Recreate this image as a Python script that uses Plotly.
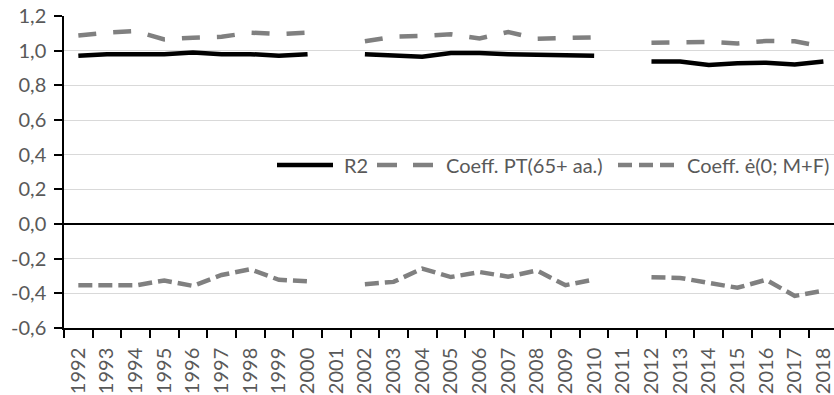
import plotly.graph_objects as go

years = [str(y) for y in range(1992, 2019)]

r2 = [0.97, 0.98, 0.98, 0.98, 0.99, 0.98, 0.98, 0.97, 0.98, None,
      0.98, 0.975, 0.965, 0.987, 0.987, 0.98, 0.977, 0.97, 0.97, None,
      0.938, 0.937, 0.917, 0.927, 0.93, 0.92, 0.938]
coeff_pt = [1.087, 1.104, 1.113, 1.065, 1.075, 1.08, 1.104, 1.096, 1.104, None,
            1.054, 1.081, 1.085, 1.094, 1.071, 1.108, 1.069, 1.075, 1.077, None,
            1.046, 1.048, 1.05, 1.042, 1.056, 1.054, 1.023]
coeff_e0 = [-0.354, -0.354, -0.354, -0.326, -0.357, -0.294, -0.261, -0.322, -0.331, None,
            -0.347, -0.334, -0.257, -0.306, -0.277, -0.304, -0.268, -0.353, -0.32, None,
            -0.307, -0.311, -0.34, -0.368, -0.322, -0.415, -0.385]

names = ["R2", "Coeff. PT(65+ aa.)", "Coeff. ė(0; M+F)"]
y_tickvals = [-0.6, -0.4, -0.2, 0.0, 0.2, 0.4, 0.6, 0.8, 1.0, 1.2]
y_ticktext = ["-0,6", "-0,4", "-0,2", "0,0", "0,2", "0,4", "0,6", "0,8", "1,0", "1,2"]

FONT = "Lato"
TXT = "#595959"
GREY = "#808080"
colors = ["#000000", GREY, GREY]
dashes = ["solid", "18px,17px", "14px,6px"]
legend_dashes = ["solid", "20px,16px", "14px,7px"]

W, H = 834, 395
ML, MR, MT, MB = 64, 0, 16, 67
PW, PH = W - ML - MR, H - MT - MB

fig = go.Figure()
for name, vals, col, dsh in zip(names, [r2, coeff_pt, coeff_e0], colors, dashes):
    fig.add_trace(go.Scatter(x=years, y=vals, name=name, mode="lines",
                             line=dict(color=col, width=4.5, dash=dsh),
                             connectgaps=False, showlegend=False))

# legend drawn as line samples + labels (Excel-style long samples)
leg_y_px = 165
leg_items = [(277, 333, 343), (377, 433, 445), (618, 675, 686)]

def px_x(p):
    return (p - ML) / PW

def px_y(p):
    return (H - MB - p) / PH

for (x0, x1, xt), name, col, dsh in zip(leg_items, names, colors, legend_dashes):
    fig.add_shape(type="line", xref="paper", yref="paper",
                  x0=px_x(x0), x1=px_x(x1), y0=px_y(leg_y_px), y1=px_y(leg_y_px),
                  line=dict(color=col, width=4.5, dash=dsh))
    fig.add_annotation(xref="paper", yref="paper", x=px_x(xt), y=px_y(leg_y_px),
                       text=name, showarrow=False, xanchor="left", yanchor="middle",
                       font=dict(family=FONT, size=20, color=TXT), borderpad=0)

fig.update_layout(
    width=W, height=H,
    margin=dict(l=ML, r=MR, t=MT, b=MB),
    paper_bgcolor="white", plot_bgcolor="white",
    font=dict(family=FONT, size=20, color=TXT),
    showlegend=False,
)
fig.update_xaxes(type="category", range=[-0.5, 26.37], showgrid=False, automargin=False,
                 showline=True, linecolor="#000000", linewidth=1.5,
                 ticks="outside", tickson="boundaries", ticklen=8,
                 tickcolor="#000000", tickwidth=1.5, tickangle=-90,
                 ticklabelstandoff=10,
                 tickfont=dict(family=FONT, size=20, color=TXT))
fig.update_yaxes(range=[-0.6, 1.2], tickvals=y_tickvals, ticktext=y_ticktext,
                 automargin=False,
                 showgrid=True, gridcolor="#d9d9d9", gridwidth=1,
                 zeroline=True, zerolinecolor="#000000", zerolinewidth=1.5,
                 showline=True, linecolor="#000000", linewidth=1.5,
                 ticks="outside", ticklen=8, tickcolor="#000000", tickwidth=1.5,
                 ticklabelstandoff=4,
                 tickfont=dict(family=FONT, size=20, color=TXT))

fig.write_html("out.html",
               config={"displayModeBar": False},
               post_script="document.body.style.margin='0';document.body.style.overflow='hidden';")
